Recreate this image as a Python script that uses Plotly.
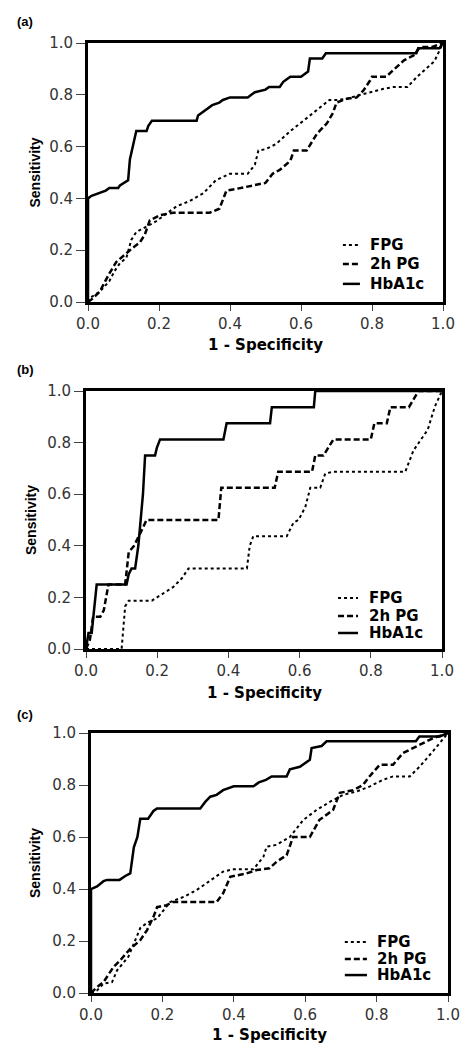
import plotly.graph_objects as go

# ---------------- data ----------------
SERIES_NAMES = ["FPG", "2h PG", "HbA1c"]
PANEL_LABELS = ["(a)", "(b)", "(c)"]
X_TITLE = "1 - Specificity"
Y_TITLE = "Sensitivity"
TICK_VALUES = [0.0, 0.2, 0.4, 0.6, 0.8, 1.0]
TICK_LABELS = ["0.0", "0.2", "0.4", "0.6", "0.8", "1.0"]

# Panel (a)
FPG_A_X = [0, 0.005, 0.033, 0.06, 0.075, 0.09, 0.108, 0.122, 0.136, 0.165, 0.19, 0.22, 0.25, 0.287, 0.325, 0.36, 0.40, 0.45, 0.47, 0.48, 0.50, 0.53, 0.57, 0.607, 0.645, 0.68, 0.70, 0.73, 0.767, 0.795, 0.833, 0.86, 0.90, 0.927, 0.976, 1.0]
FPG_A_Y = [0, 0.015, 0.04, 0.08, 0.12, 0.15, 0.17, 0.24, 0.27, 0.29, 0.31, 0.34, 0.37, 0.39, 0.42, 0.47, 0.495, 0.495, 0.53, 0.585, 0.59, 0.61, 0.66, 0.70, 0.74, 0.78, 0.78, 0.785, 0.80, 0.81, 0.823, 0.83, 0.83, 0.87, 0.93, 1.0]
PG2_A_X = [0, 0.01, 0.033, 0.06, 0.08, 0.108, 0.127, 0.146, 0.16, 0.174, 0.202, 0.24, 0.343, 0.37, 0.39, 0.43, 0.465, 0.50, 0.52, 0.54, 0.57, 0.58, 0.616, 0.645, 0.673, 0.69, 0.70, 0.73, 0.757, 0.776, 0.795, 0.80, 0.84, 0.87, 0.89, 0.917, 0.936, 0.97, 1.0]
PG2_A_Y = [0, 0.01, 0.04, 0.11, 0.155, 0.19, 0.21, 0.23, 0.26, 0.315, 0.335, 0.345, 0.345, 0.36, 0.43, 0.44, 0.45, 0.46, 0.495, 0.51, 0.545, 0.585, 0.585, 0.65, 0.69, 0.73, 0.77, 0.785, 0.79, 0.817, 0.856, 0.87, 0.87, 0.907, 0.933, 0.952, 0.985, 0.985, 1.0]
HBA1C_A_X = [0, 0, 0.01, 0.03, 0.05, 0.06, 0.085, 0.09, 0.10, 0.113, 0.118, 0.127, 0.136, 0.165, 0.17, 0.18, 0.306, 0.31, 0.33, 0.34, 0.35, 0.37, 0.38, 0.40, 0.45, 0.46, 0.47, 0.50, 0.51, 0.54, 0.55, 0.56, 0.57, 0.60, 0.61, 0.62, 0.625, 0.66, 0.67, 0.925, 0.93, 0.99, 1.0]
HBA1C_A_Y = [0, 0.40, 0.41, 0.42, 0.43, 0.44, 0.44, 0.45, 0.46, 0.47, 0.55, 0.60, 0.66, 0.66, 0.68, 0.70, 0.70, 0.72, 0.74, 0.75, 0.76, 0.77, 0.78, 0.79, 0.79, 0.80, 0.81, 0.82, 0.83, 0.83, 0.85, 0.86, 0.87, 0.87, 0.88, 0.89, 0.94, 0.94, 0.96, 0.96, 0.98, 0.98, 1.0]

# Panel (b)
FPG_B_X = [0, 0.10, 0.11, 0.12, 0.185, 0.21, 0.245, 0.27, 0.288, 0.452, 0.46, 0.47, 0.564, 0.583, 0.597, 0.616, 0.63, 0.658, 0.672, 0.695, 0.897, 0.92, 0.96, 0.98, 0.995, 1.0]
FPG_B_Y = [0, 0, 0.165, 0.1875, 0.1875, 0.21, 0.24, 0.275, 0.3125, 0.3125, 0.40, 0.4375, 0.4375, 0.49, 0.50, 0.55, 0.625, 0.625, 0.68, 0.6875, 0.6875, 0.77, 0.85, 0.94, 0.99, 1.0]
PG2_B_X = [0, 0.011, 0.02, 0.04, 0.05, 0.063, 0.11, 0.12, 0.135, 0.15, 0.16, 0.17, 0.372, 0.38, 0.53, 0.54, 0.635, 0.644, 0.667, 0.695, 0.80, 0.81, 0.845, 0.855, 0.907, 0.934, 1.0]
PG2_B_Y = [0, 0.036, 0.125, 0.125, 0.15, 0.25, 0.25, 0.375, 0.40, 0.44, 0.47, 0.5, 0.5, 0.625, 0.625, 0.6875, 0.6875, 0.75, 0.75, 0.8125, 0.8125, 0.875, 0.875, 0.9375, 0.9375, 1.0, 1.0]
HBA1C_B_X = [0, 0.007, 0.016, 0.025, 0.03, 0.114, 0.12, 0.128, 0.138, 0.147, 0.152, 0.16, 0.166, 0.194, 0.199, 0.208, 0.386, 0.395, 0.517, 0.522, 0.64, 0.644, 1.0]
HBA1C_B_Y = [0, 0.0625, 0.0625, 0.1875, 0.25, 0.25, 0.29, 0.3125, 0.3125, 0.40, 0.47, 0.60, 0.75, 0.75, 0.78, 0.8125, 0.8125, 0.875, 0.875, 0.9375, 0.9375, 1.0, 1.0]

# Panel (c)
FPG_C_X = [0, 0.017, 0.035, 0.059, 0.073, 0.09, 0.105, 0.12, 0.138, 0.157, 0.185, 0.222, 0.26, 0.296, 0.334, 0.37, 0.40, 0.455, 0.483, 0.492, 0.52, 0.557, 0.595, 0.632, 0.67, 0.706, 0.744, 0.78, 0.818, 0.846, 0.893, 0.92, 0.958, 1.0]
FPG_C_Y = [0, 0.01, 0.036, 0.042, 0.087, 0.113, 0.14, 0.19, 0.25, 0.27, 0.287, 0.35, 0.37, 0.396, 0.434, 0.467, 0.476, 0.476, 0.524, 0.563, 0.57, 0.60, 0.666, 0.704, 0.736, 0.762, 0.775, 0.794, 0.82, 0.833, 0.833, 0.87, 0.93, 1.0]
PG2_C_X = [0, 0.017, 0.035, 0.063, 0.082, 0.11, 0.138, 0.157, 0.175, 0.185, 0.212, 0.23, 0.352, 0.37, 0.39, 0.436, 0.464, 0.50, 0.52, 0.548, 0.566, 0.613, 0.64, 0.678, 0.697, 0.734, 0.762, 0.78, 0.809, 0.846, 0.874, 0.902, 0.92, 0.958, 1.0]
PG2_C_Y = [0, 0.023, 0.042, 0.10, 0.126, 0.17, 0.203, 0.242, 0.293, 0.33, 0.338, 0.35, 0.35, 0.383, 0.447, 0.46, 0.473, 0.48, 0.505, 0.53, 0.60, 0.60, 0.666, 0.704, 0.77, 0.78, 0.80, 0.833, 0.878, 0.878, 0.923, 0.942, 0.955, 0.98, 1.0]
HBA1C_C_X = [0, 0, 0.017, 0.035, 0.045, 0.08, 0.096, 0.11, 0.12, 0.13, 0.138, 0.16, 0.175, 0.185, 0.306, 0.32, 0.334, 0.352, 0.37, 0.40, 0.455, 0.47, 0.49, 0.506, 0.548, 0.557, 0.585, 0.60, 0.613, 0.618, 0.646, 0.66, 0.91, 0.92, 0.977, 1.0]
HBA1C_C_Y = [0, 0.40, 0.41, 0.43, 0.435, 0.435, 0.45, 0.46, 0.56, 0.60, 0.67, 0.67, 0.70, 0.71, 0.71, 0.735, 0.755, 0.762, 0.78, 0.795, 0.795, 0.81, 0.82, 0.833, 0.833, 0.86, 0.87, 0.884, 0.897, 0.942, 0.95, 0.968, 0.968, 0.987, 0.987, 1.0]

# ---------------- layout geometry (pixels) ----------------
W, H = 462, 1044
PANELS = [
    dict(data=[(FPG_A_X, FPG_A_Y), (PG2_A_X, PG2_A_Y), (HBA1C_A_X, HBA1C_A_Y)],
         box=(88, 443, 43, 302), label_xy=(15, 22), xtitle_y=345, ytitle_x=34,
         leg_x=(0.718, 0.766, 0.789), leg_y=(0.22, 0.147, 0.07)),
    dict(data=[(FPG_B_X, FPG_B_Y), (PG2_B_X, PG2_B_Y), (HBA1C_B_X, HBA1C_B_Y)],
         box=(86, 442, 391, 649), label_xy=(15, 369), xtitle_y=693, ytitle_x=31,
         leg_x=(0.708, 0.764, 0.789), leg_y=(0.198, 0.128, 0.062)),
    dict(data=[(FPG_C_X, FPG_C_Y), (PG2_C_X, PG2_C_Y), (HBA1C_C_X, HBA1C_C_Y)],
         box=(91, 448, 733, 993), label_xy=(15, 714), xtitle_y=1035, ytitle_x=35,
         leg_x=(0.711, 0.773, 0.796), leg_y=(0.196, 0.131, 0.069)),
]
STYLES = [dict(dash="dot", width=2), dict(dash="6px,3px", width=2.5), dict(dash="solid", width=2.5)]


def px(x):
    return x / W


def py(y):
    return 1 - y / H


fig = go.Figure()
annotations = []
shapes = []
layout = {}

TITLE_FONT_X = dict(family="DejaVu Sans", size=15, color="black", weight="bold")
TITLE_FONT_Y = dict(family="Liberation Sans, Arial", size=14, color="black", weight="bold")
TICK_FONT = dict(family="DejaVu Sans", size=15, color="#333333")
LEG_FONT = dict(family="DejaVu Sans", size=15, color="black", weight="bold")

for i, p in enumerate(PANELS):
    sfx = "" if i == 0 else str(i + 1)
    xa, ya = "x" + sfx, "y" + sfx
    l, r, t, b = p["box"]
    for (xs, ys), name, st in zip(p["data"], SERIES_NAMES, STYLES):
        fig.add_trace(go.Scatter(x=xs, y=ys, mode="lines", name=name, showlegend=False,
                                 line=dict(color="black", width=st["width"], dash=st["dash"]),
                                 xaxis=xa, yaxis=ya, hoverinfo="skip"))
    common = dict(range=[0, 1], showline=True, mirror=True, linecolor="black", linewidth=3,
                  ticks="outside", tickcolor="#444444", tickwidth=1, automargin=False,
                  tickvals=TICK_VALUES, ticktext=TICK_LABELS, showgrid=False, zeroline=False,
                  tickfont=TICK_FONT, fixedrange=True)
    layout["xaxis" + sfx] = dict(common, domain=[px(l), px(r)], anchor=ya, ticklen=6)
    layout["yaxis" + sfx] = dict(common, domain=[py(b), py(t)], anchor=xa, ticklen=9)
    # titles
    annotations.append(dict(text=X_TITLE, x=px((l + r) / 2), y=py(p["xtitle_y"]), xref="paper", yref="paper",
                            xanchor="center", yanchor="middle", showarrow=False, font=TITLE_FONT_X))
    annotations.append(dict(text=Y_TITLE, x=px(p["ytitle_x"]), y=py((t + b) / 2), xref="paper", yref="paper",
                            xanchor="center", yanchor="middle", showarrow=False, textangle=-90, font=TITLE_FONT_Y))
    lx, ly = p["label_xy"]
    annotations.append(dict(text=PANEL_LABELS[i], x=px(lx), y=py(ly), xref="paper", yref="paper",
                            xanchor="left", yanchor="middle", showarrow=False,
                            font=dict(family="Liberation Sans, Arial", size=13, color="black", weight="bold")))
    # legend (drawn inside the plot area, bottom-right)
    x0, x1, xt = p["leg_x"]
    for name, st, yy in zip(SERIES_NAMES, STYLES, p["leg_y"]):
        shapes.append(dict(type="line", xref=xa, yref=ya, x0=x0, x1=x1, y0=yy, y1=yy,
                           line=dict(color="black", width=st["width"], dash=st["dash"])))
        annotations.append(dict(text=name, x=xt, y=yy, xref=xa, yref=ya, xanchor="left", yanchor="middle",
                                showarrow=False, font=LEG_FONT))

fig.update_layout(template="none", width=W, height=H, autosize=False,
                  margin=dict(l=0, r=0, t=0, b=0, pad=0),
                  paper_bgcolor="white", plot_bgcolor="white",
                  annotations=annotations, shapes=shapes, showlegend=False, **layout)

fig.write_html("out.html", config={"responsive": False, "displayModeBar": False},
               post_script="document.body.style.margin='0';document.body.style.overflow='hidden';")
